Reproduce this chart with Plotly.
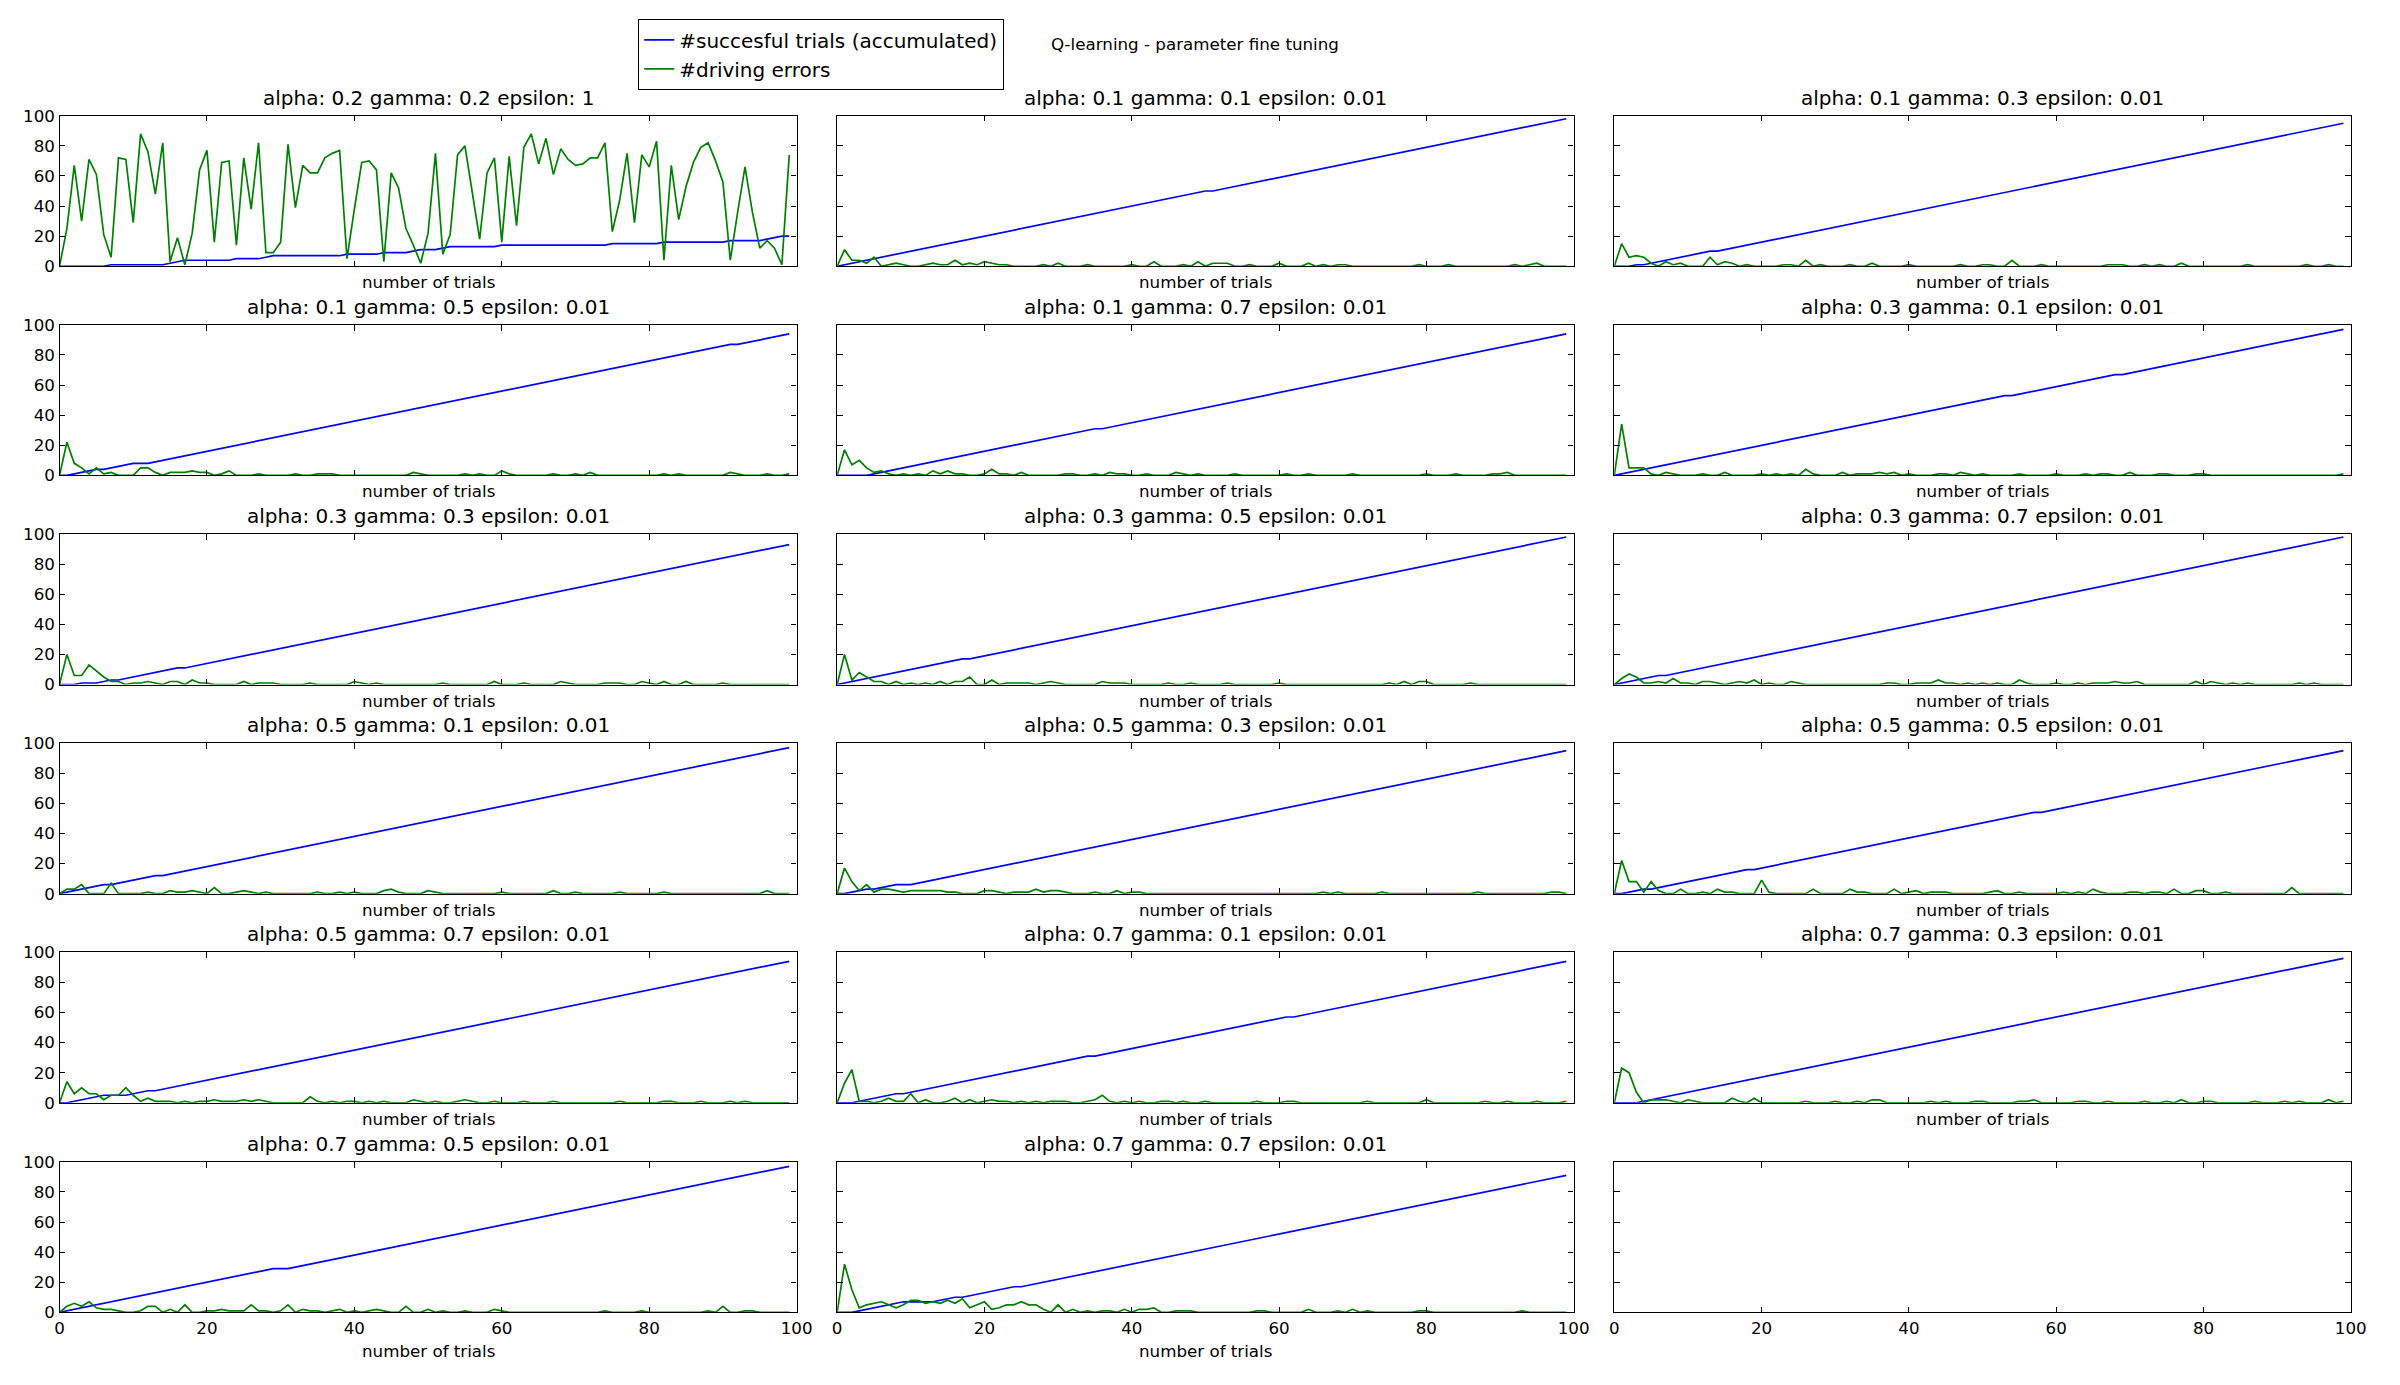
import numpy as np
import plotly.graph_objects as go

# ---------------- data ----------------
trials = list(range(100))

alphas = [0.2, 0.1, 0.1, 0.1, 0.1, 0.3, 0.3, 0.3, 0.3, 0.5, 0.5, 0.5, 0.5, 0.7, 0.7, 0.7, 0.7]
gammas = [0.2, 0.1, 0.3, 0.5, 0.7, 0.1, 0.3, 0.5, 0.7, 0.1, 0.3, 0.5, 0.7, 0.1, 0.3, 0.5, 0.7]
epsilons = ["1"] + ["0.01"] * 16

x_ticks = [0, 20, 40, 60, 80, 100]
y_ticks = [0, 20, 40, 60, 80, 100]

# accumulated successful trials, panel 1 (read directly)
succ_1 = [0, 0, 0, 0, 0, 0, 0, 1, 1, 1,
          1, 1, 1, 1, 1, 2, 3, 4, 4, 4,
          4, 4, 4, 4, 5, 5, 5, 5, 6, 7,
          7, 7, 7, 7, 7, 7, 7, 7, 7, 8,
          8, 8, 8, 8, 9, 9, 9, 9, 10, 11,
          11, 11, 12, 13, 13, 13, 13, 13, 13, 13,
          14, 14, 14, 14, 14, 14, 14, 14, 14, 14,
          14, 14, 14, 14, 14, 15, 15, 15, 15, 15,
          15, 15, 16, 16, 16, 16, 16, 16, 16, 16,
          16, 17, 17, 17, 17, 17, 18, 19, 20, 20]

# trials that were NOT successful (the blue curve stays flat there), panels 2..17
fail_2 = [0, 51]
fail_3 = [0, 1, 2, 4, 14]
fail_4 = [0, 1, 6, 11, 12, 92]
fail_5 = [0, 1, 2, 3, 4, 36]
fail_6 = [0, 54, 69]
fail_7 = [0, 1, 2, 4, 5, 8, 17]
fail_8 = [0, 18]
fail_9 = [0, 7]
fail_10 = [0, 7, 14]
fail_11 = [0, 1, 5, 9, 10]
fail_12 = [0, 1, 5, 19, 58]
fail_13 = [0, 1, 7, 8, 9, 13]
fail_14 = [0, 1, 2, 9, 35, 62]
fail_15 = [0, 1, 2, 3]
fail_16 = [0, 30, 31]
fail_17 = [0, 1, 2, 10, 11, 12, 13, 17, 25]

# driving errors per trial
err_1 = [0, 25, 67, 30, 71, 61, 21, 6, 72, 71,
         29, 88, 76, 48, 82, 3, 19, 1, 22, 64,
         77, 16, 69, 70, 14, 72, 38, 82, 9, 9,
         16, 81, 39, 67, 62, 62, 72, 75, 77, 5,
         38, 69, 70, 64, 3, 62, 52, 25, 14, 2,
         22, 75, 8, 21, 74, 80, 49, 18, 62, 72,
         16, 73, 27, 79, 88, 68, 85, 61, 78, 71,
         67, 68, 72, 72, 82, 23, 44, 75, 29, 74,
         66, 83, 4, 67, 31, 53, 69, 79, 82, 70,
         56, 4, 36, 66, 36, 12, 17, 12, 1, 74]
err_2 = [0, 11, 4, 4, 2, 6, 0, 1, 2, 1,
         0, 0, 1, 2, 1, 1, 4, 1, 2, 1,
         3, 2, 1, 1, 0, 0, 0, 0, 1, 0,
         2, 0, 0, 0, 1, 0, 0, 0, 0, 0,
         1, 0, 0, 3, 0, 0, 0, 1, 0, 3,
         0, 2, 2, 2, 0, 0, 1, 0, 0, 0,
         2, 0, 0, 0, 2, 0, 1, 0, 1, 1,
         0, 0, 0, 0, 0, 0, 0, 0, 0, 1,
         0, 0, 0, 1, 0, 0, 0, 0, 0, 0,
         0, 0, 1, 0, 1, 2, 0, 0, 0, 0]
err_3 = [0, 15, 6, 7, 6, 2, 0, 3, 1, 2,
         0, 0, 0, 6, 1, 3, 2, 0, 1, 0,
         0, 0, 0, 1, 1, 0, 4, 0, 1, 0,
         0, 0, 1, 0, 0, 2, 0, 0, 0, 0,
         1, 0, 0, 0, 0, 0, 0, 1, 0, 0,
         1, 1, 0, 0, 4, 0, 0, 0, 1, 0,
         0, 0, 0, 0, 0, 0, 0, 1, 1, 1,
         0, 0, 1, 0, 1, 0, 0, 2, 0, 0,
         0, 0, 0, 0, 0, 0, 1, 0, 0, 0,
         0, 0, 0, 0, 1, 0, 0, 1, 0, 0]
err_4 = [0, 22, 8, 5, 1, 5, 1, 2, 0, 0,
         0, 5, 5, 2, 0, 2, 2, 2, 3, 2,
         2, 0, 1, 3, 0, 0, 0, 1, 0, 0,
         0, 0, 1, 0, 0, 1, 1, 1, 0, 0,
         0, 0, 0, 0, 0, 0, 0, 0, 2, 1,
         0, 0, 0, 0, 0, 1, 0, 1, 0, 0,
         3, 1, 0, 0, 0, 0, 0, 1, 0, 0,
         1, 0, 2, 0, 0, 0, 0, 0, 0, 0,
         0, 0, 1, 0, 1, 0, 0, 0, 0, 0,
         0, 2, 1, 0, 0, 0, 1, 0, 0, 1]
err_5 = [0, 17, 7, 10, 5, 2, 3, 1, 0, 1,
         0, 1, 0, 3, 1, 3, 1, 1, 0, 0,
         1, 4, 1, 1, 0, 2, 0, 0, 0, 0,
         0, 1, 1, 0, 0, 1, 0, 2, 1, 1,
         0, 0, 1, 0, 0, 0, 2, 1, 0, 1,
         0, 0, 0, 0, 1, 0, 0, 0, 0, 0,
         0, 1, 0, 0, 1, 0, 0, 0, 0, 0,
         1, 0, 0, 0, 0, 0, 0, 0, 0, 0,
         1, 0, 0, 0, 1, 0, 0, 0, 0, 1,
         1, 2, 0, 0, 0, 0, 0, 0, 0, 0]
err_6 = [0, 34, 5, 5, 5, 1, 0, 2, 1, 0,
         0, 0, 1, 0, 0, 2, 0, 0, 0, 0,
         1, 0, 1, 0, 1, 0, 4, 1, 0, 0,
         0, 2, 0, 1, 1, 1, 2, 1, 2, 0,
         1, 0, 0, 0, 1, 1, 0, 2, 1, 0,
         1, 0, 0, 0, 0, 1, 0, 0, 0, 0,
         1, 0, 0, 0, 1, 0, 1, 1, 0, 0,
         2, 0, 0, 0, 1, 1, 0, 0, 0, 1,
         1, 0, 0, 0, 0, 0, 0, 0, 0, 0,
         0, 0, 0, 0, 0, 0, 0, 0, 0, 1]
err_7 = [0, 20, 6, 6, 13, 9, 5, 2, 2, 0,
         1, 1, 2, 1, 0, 2, 2, 0, 3, 1,
         1, 0, 0, 0, 0, 2, 0, 1, 1, 1,
         0, 0, 0, 0, 1, 0, 0, 0, 0, 0,
         2, 1, 0, 1, 0, 0, 0, 0, 0, 0,
         0, 0, 1, 0, 0, 0, 0, 0, 0, 2,
         0, 0, 0, 1, 0, 0, 0, 0, 2, 1,
         0, 0, 0, 0, 1, 1, 1, 0, 0, 2,
         1, 0, 2, 0, 0, 2, 0, 0, 0, 0,
         1, 0, 0, 0, 0, 0, 0, 0, 0, 0]
err_8 = [0, 20, 3, 8, 5, 2, 2, 0, 2, 0,
         1, 0, 1, 0, 2, 0, 2, 2, 5, 0,
         0, 3, 0, 1, 1, 1, 1, 0, 1, 2,
         1, 0, 0, 0, 0, 0, 2, 1, 1, 1,
         0, 0, 0, 0, 0, 1, 0, 0, 1, 0,
         0, 0, 0, 1, 0, 0, 0, 0, 0, 0,
         1, 0, 0, 0, 0, 0, 0, 0, 0, 0,
         0, 0, 0, 0, 0, 1, 0, 2, 0, 2,
         2, 0, 0, 0, 0, 0, 1, 0, 0, 0,
         0, 0, 0, 0, 0, 0, 0, 0, 0, 0]
err_9 = [0, 4, 7, 5, 1, 1, 2, 1, 4, 1,
         1, 0, 2, 2, 1, 0, 1, 2, 1, 3,
         0, 1, 0, 0, 2, 1, 0, 0, 0, 0,
         0, 0, 0, 0, 0, 0, 0, 1, 1, 0,
         0, 1, 1, 1, 3, 1, 1, 0, 1, 0,
         1, 0, 1, 0, 0, 3, 1, 0, 0, 0,
         1, 0, 0, 1, 0, 1, 1, 1, 2, 1,
         1, 2, 0, 0, 0, 0, 0, 0, 0, 2,
         0, 2, 1, 0, 1, 0, 1, 0, 0, 0,
         0, 0, 0, 1, 0, 1, 0, 0, 0, 0]
err_10 = [0, 3, 3, 6, 0, 0, 0, 7, 0, 0,
          0, 0, 1, 0, 0, 2, 1, 1, 2, 1,
          0, 4, 0, 0, 1, 2, 1, 0, 1, 0,
          0, 0, 0, 0, 0, 1, 0, 0, 1, 0,
          1, 0, 0, 0, 2, 3, 1, 0, 0, 0,
          2, 1, 0, 0, 0, 0, 0, 0, 0, 0,
          1, 0, 0, 0, 0, 0, 0, 2, 0, 0,
          1, 0, 0, 0, 0, 0, 1, 0, 0, 0,
          0, 0, 1, 0, 0, 0, 0, 0, 0, 0,
          0, 0, 0, 0, 0, 0, 2, 0, 0, 0]
err_11 = [0, 17, 8, 2, 6, 1, 3, 3, 2, 1,
          2, 2, 2, 2, 2, 1, 1, 0, 0, 0,
          2, 2, 1, 0, 1, 1, 1, 3, 1, 2,
          2, 1, 0, 0, 0, 1, 0, 0, 2, 0,
          1, 1, 0, 0, 0, 0, 0, 0, 0, 0,
          0, 0, 0, 0, 0, 0, 0, 0, 0, 0,
          0, 0, 0, 0, 0, 0, 1, 0, 1, 0,
          0, 0, 0, 0, 1, 0, 0, 0, 0, 0,
          0, 0, 0, 0, 0, 0, 0, 1, 0, 0,
          0, 0, 0, 0, 0, 0, 0, 1, 1, 0]
err_12 = [0, 22, 8, 8, 1, 8, 2, 0, 0, 3,
          0, 0, 1, 0, 3, 1, 1, 0, 0, 0,
          9, 1, 0, 0, 0, 0, 0, 3, 0, 0,
          0, 0, 3, 1, 1, 0, 0, 0, 3, 0,
          1, 2, 0, 1, 1, 1, 0, 0, 0, 0,
          0, 1, 2, 0, 0, 1, 0, 0, 0, 0,
          0, 1, 0, 1, 0, 3, 1, 0, 0, 0,
          1, 1, 0, 1, 1, 0, 3, 0, 0, 2,
          2, 0, 0, 1, 0, 0, 0, 0, 0, 0,
          0, 0, 4, 0, 0, 0, 0, 0, 0, 0]
err_13 = [0, 14, 6, 10, 6, 6, 2, 5, 5, 10,
          5, 1, 3, 1, 1, 1, 0, 1, 0, 1,
          1, 2, 1, 1, 1, 2, 1, 2, 1, 0,
          0, 0, 0, 0, 4, 1, 0, 1, 0, 1,
          1, 0, 1, 0, 1, 0, 0, 0, 2, 1,
          0, 1, 0, 0, 1, 2, 1, 0, 0, 1,
          0, 0, 0, 1, 0, 0, 0, 1, 0, 0,
          0, 0, 0, 0, 0, 0, 1, 0, 0, 0,
          0, 0, 1, 1, 0, 0, 0, 1, 0, 0,
          0, 1, 0, 1, 0, 0, 0, 0, 0, 0]
err_14 = [0, 13, 22, 1, 1, 0, 1, 3, 1, 1,
          6, 0, 2, 0, 0, 1, 3, 0, 2, 0,
          1, 2, 1, 1, 0, 1, 0, 1, 0, 1,
          1, 1, 0, 0, 1, 2, 5, 1, 0, 1,
          0, 1, 0, 0, 1, 1, 0, 1, 0, 0,
          1, 0, 0, 0, 0, 0, 0, 1, 0, 0,
          0, 1, 1, 0, 0, 0, 0, 0, 0, 0,
          0, 0, 1, 0, 0, 0, 0, 0, 0, 0,
          2, 0, 0, 0, 0, 0, 0, 0, 1, 0,
          0, 1, 0, 0, 0, 1, 0, 0, 0, 1]
err_15 = [0, 23, 20, 7, 0, 2, 2, 2, 1, 0,
          2, 1, 0, 0, 0, 0, 3, 1, 0, 3,
          0, 0, 0, 0, 0, 0, 1, 0, 0, 0,
          1, 0, 0, 1, 0, 2, 2, 0, 0, 0,
          0, 0, 0, 1, 0, 1, 0, 0, 0, 1,
          1, 0, 0, 0, 0, 1, 1, 2, 0, 0,
          0, 0, 0, 1, 1, 0, 0, 1, 0, 0,
          0, 0, 1, 0, 0, 1, 0, 2, 0, 0,
          1, 1, 0, 0, 0, 0, 0, 1, 0, 0,
          0, 1, 0, 1, 0, 0, 0, 2, 0, 1]
err_16 = [0, 4, 6, 4, 7, 3, 2, 2, 1, 0,
          0, 1, 4, 4, 0, 2, 0, 5, 0, 0,
          1, 1, 2, 1, 1, 1, 5, 1, 1, 0,
          1, 5, 0, 2, 1, 1, 0, 1, 2, 0,
          1, 0, 1, 2, 1, 0, 0, 4, 0, 0,
          2, 0, 1, 0, 0, 1, 0, 0, 0, 2,
          1, 0, 0, 0, 0, 0, 0, 0, 0, 0,
          0, 0, 0, 0, 1, 0, 0, 0, 0, 1,
          0, 0, 0, 0, 0, 0, 0, 0, 1, 0,
          4, 0, 0, 1, 1, 0, 0, 0, 0, 0]
err_17 = [0, 32, 15, 3, 5, 6, 7, 5, 3, 5,
          8, 8, 6, 7, 6, 8, 6, 9, 3, 5,
          7, 2, 3, 5, 5, 7, 5, 5, 2, 0,
          5, 0, 2, 0, 1, 0, 1, 1, 0, 2,
          0, 2, 2, 3, 0, 0, 1, 1, 1, 0,
          0, 0, 0, 0, 0, 0, 0, 1, 1, 0,
          0, 0, 0, 0, 2, 0, 0, 0, 1, 0,
          2, 0, 1, 0, 0, 0, 0, 0, 0, 1,
          1, 0, 0, 0, 0, 0, 0, 0, 0, 0,
          0, 0, 0, 1, 0, 0, 0, 0, 0, 0]

failures = [None, fail_2, fail_3, fail_4, fail_5, fail_6, fail_7, fail_8, fail_9,
            fail_10, fail_11, fail_12, fail_13, fail_14, fail_15, fail_16, fail_17]
errors = [err_1, err_2, err_3, err_4, err_5, err_6, err_7, err_8, err_9,
          err_10, err_11, err_12, err_13, err_14, err_15, err_16, err_17]

# accumulated successes from the per-trial success record
accumulated = [succ_1]
for f in failures[1:]:
    ok = np.ones(len(trials), dtype=int)
    ok[f] = 0
    accumulated.append(np.cumsum(ok).tolist())

# ---------------- layout geometry (pixels) ----------------
W, H = 2400, 1385
col_px = [(55, 798.6), (839.5, 1582.5), (1623.5, 2366.5)]
row_top = [107.3, 319.5, 531.7, 743.9, 956.1, 1168.7]
row_h = 152.7

FONT = "DejaVu Sans"
BLUE = "#0000ff"
GREEN = "#008000"

fig = go.Figure()
annotations = []
layout_axes = {}

axis_common = dict(
    range=[0, 100], ticks="inside", ticklen=5.5, tickwidth=1.1,
    tickcolor="black", mirror="allticks", showline=True, linecolor="black",
    linewidth=1.4, showgrid=False, zeroline=False,
    tickfont=dict(family=FONT, size=16.7, color="black"))

for i in range(18):
    r, c = divmod(i, 3)
    k = i + 1
    xs = "" if k == 1 else str(k)
    x0, x1 = col_px[c]
    y_top = row_top[r]
    y_bot = y_top + row_h
    xdom = [x0 / W, x1 / W]
    ydom = [1 - y_bot / H, 1 - y_top / H]
    last_row = (r == 5)
    layout_axes["xaxis" + xs] = dict(
        domain=xdom, anchor="y" + xs, tickvals=x_ticks,
        showticklabels=last_row, **axis_common)
    layout_axes["yaxis" + xs] = dict(
        domain=ydom, anchor="x" + xs, tickvals=y_ticks,
        showticklabels=(c == 0), **axis_common)

    if i >= 17:
        # empty last panel: axes only
        fig.add_trace(go.Scatter(x=[], y=[], xaxis="x" + xs, yaxis="y" + xs,
                                 showlegend=False))
        continue

    fig.add_trace(go.Scatter(
        x=trials, y=accumulated[i], mode="lines", xaxis="x" + xs, yaxis="y" + xs,
        line=dict(color=BLUE, width=1.7), name="#succesful trials (accumulated)",
        showlegend=(i == 0), legendgroup="succ"))
    fig.add_trace(go.Scatter(
        x=trials, y=errors[i], mode="lines", xaxis="x" + xs, yaxis="y" + xs,
        line=dict(color=GREEN, width=1.7), name="#driving errors",
        showlegend=(i == 0), legendgroup="err"))

    title = f"alpha: {alphas[i]} gamma: {gammas[i]} epsilon: {epsilons[i]}"
    annotations.append(dict(
        text=title, x=(xdom[0] + xdom[1]) / 2, y=ydom[1], xref="paper", yref="paper",
        xanchor="center", yanchor="bottom", yshift=4, showarrow=False,
        font=dict(family=FONT, size=20, color="black")))
    annotations.append(dict(
        text="number of trials", x=(xdom[0] + xdom[1]) / 2, y=ydom[0],
        xref="paper", yref="paper", xanchor="center", yanchor="top",
        yshift=(-27 if last_row else -4), showarrow=False,
        font=dict(family=FONT, size=16.7, color="black")))

annotations.append(dict(
    text="Q-learning - parameter fine tuning", x=0.5, y=1 - 35 / H,
    xref="paper", yref="paper", xanchor="center", yanchor="middle",
    showarrow=False, font=dict(family=FONT, size=16.7, color="black")))

fig.update_layout(
    width=W, height=H, autosize=False,
    margin=dict(l=0, r=0, t=0, b=0),
    paper_bgcolor="white", plot_bgcolor="white",
    font=dict(family=FONT, color="black"),
    annotations=annotations,
    showlegend=True,
    legend=dict(x=638.5 / W, y=1 - 9.3 / H, xanchor="left", yanchor="top",
                bordercolor="black", borderwidth=1.3, bgcolor="white",
                font=dict(family=FONT, size=20, color="black"),
                tracegroupgap=0, itemwidth=30),
    **layout_axes)

fig.write_html("out.html",
               config={"displayModeBar": False},
               post_script="document.body.style.margin='0px';")
